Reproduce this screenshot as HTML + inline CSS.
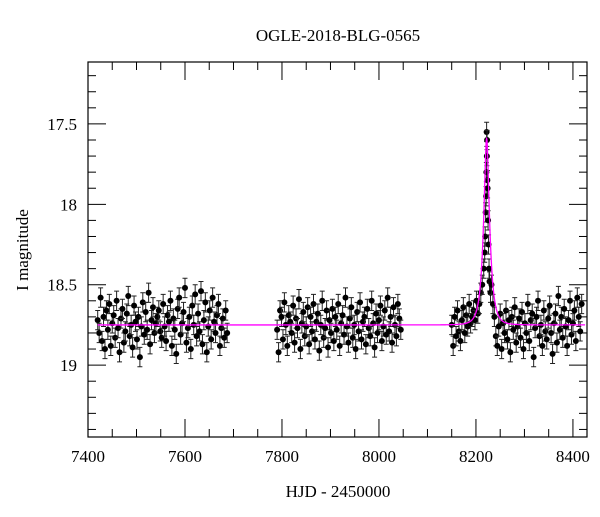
<!DOCTYPE html>
<html><head><meta charset="utf-8"><style>
body{margin:0;background:#fff}
svg text{font-family:"Liberation Serif",serif;fill:#000}
</style></head><body>
<svg id="c" width="600" height="512" viewBox="0 0 600 512" xmlns="http://www.w3.org/2000/svg">
<rect width="600" height="512" fill="#fff"/>
<text x="338" y="41" text-anchor="middle" font-size="17">OGLE-2018-BLG-0565</text>
<text x="338" y="497" text-anchor="middle" font-size="17">HJD - 2450000</text>
<text transform="translate(28,250) rotate(-90)" text-anchor="middle" font-size="17">I magnitude</text>
<g id="ticks"></g>
<g id="pts"></g>
<g id="model"></g>
<rect x="88" y="62" width="499" height="375" fill="none" stroke="#000" stroke-width="1.2"/>
</svg>
<script>
const xTicks=[7400,7600,7800,8000,8200,8400];
const yTicks=[17.5,18,18.5,19];
const season1Times=[7420,7423,7426,7429,7432,7435,7438,7441,7444,7447,7450,7453,7456,7459,7462,7465,7468,7471,7474,7477,7480,7483,7486,7489,7492,7495,7498,7501,7504,7507,7510,7513,7516,7519,7522,7525,7528,7531,7534,7537,7540,7543,7546,7549,7552,7555,7558,7561,7564,7567,7570,7573,7576,7579,7582,7585,7588,7591,7594,7597,7600,7603,7606,7609,7612,7615,7618,7621,7624,7627,7630,7633,7636,7639,7642,7645,7648,7651,7654,7657,7660,7663,7666,7669,7672,7675,7678,7681,7684,7687];
const season1Mags=[18.72,18.80,18.58,18.85,18.70,18.90,18.66,18.78,18.62,18.88,18.74,18.69,18.83,18.60,18.77,18.92,18.71,18.65,18.86,18.79,18.68,18.57,18.82,18.75,18.89,18.63,18.73,18.84,18.70,18.95,18.76,18.61,18.81,18.67,18.78,18.55,18.87,18.72,18.64,18.80,18.74,18.70,18.66,18.79,18.83,18.62,18.76,18.85,18.69,18.73,18.60,18.88,18.71,18.78,18.93,18.65,18.58,18.81,18.74,18.67,18.52,18.86,18.77,18.70,18.90,18.63,18.75,18.56,18.82,18.68,18.79,18.54,18.87,18.72,18.61,18.92,18.76,18.66,18.84,18.58,18.73,18.80,18.69,18.62,18.88,18.77,18.71,18.83,18.66,18.80];
const season2Times=[7790,7793,7796,7799,7802,7805,7808,7811,7814,7817,7820,7823,7826,7829,7832,7835,7838,7841,7844,7847,7850,7853,7856,7859,7862,7865,7868,7871,7874,7877,7880,7883,7886,7889,7892,7895,7898,7901,7904,7907,7910,7913,7916,7919,7922,7925,7928,7931,7934,7937,7940,7943,7946,7949,7952,7955,7958,7961,7964,7967,7970,7973,7976,7979,7982,7985,7988,7991,7994,7997,8000,8003,8006,8009,8012,8015,8018,8021,8024,8027,8030,8033,8036,8039,8042,8045];
const season2Mags=[18.78,18.92,18.66,18.70,18.84,18.61,18.75,18.88,18.69,18.73,18.80,18.63,18.86,18.71,18.77,18.59,18.90,18.74,18.67,18.82,18.76,18.64,18.87,18.70,18.79,18.62,18.84,18.73,18.68,18.91,18.75,18.60,18.83,18.77,18.66,18.89,18.72,18.80,18.65,18.85,18.70,18.78,18.62,18.88,18.74,18.69,18.81,18.58,18.76,18.86,18.71,18.64,18.83,18.75,18.90,18.67,18.79,18.61,18.84,18.73,18.70,18.87,18.65,18.77,18.82,18.60,18.74,18.89,18.68,18.80,18.72,18.63,18.85,18.76,18.66,18.81,18.58,18.79,18.70,18.86,18.64,18.75,18.82,18.62,18.71,18.78];
const season3Times=[8150,8153,8156,8159,8162,8165,8168,8171,8174,8177,8180,8183,8186,8189,8192,8195,8198,8201,8204,8207,8210,8213,8216,8218,8219,8220,8221,8221.5,8222,8222.5,8223,8223.5,8224,8225,8226,8227,8228,8230,8232,8235,8238,8241,8244,8247,8250,8253,8256,8259,8262,8265,8268,8271,8274,8277,8280,8283,8286,8289,8292,8295,8298,8301,8304,8307,8310,8313,8316,8319,8322,8325,8328,8331,8334,8337,8340,8343,8346,8349,8352,8355,8358,8361,8364,8367,8370,8373,8376,8379,8382,8385,8388,8391,8394,8397,8400,8403,8406,8409,8412,8415,8418];
const season3Mags=[18.75,18.88,18.70,18.82,18.66,18.79,18.85,18.72,18.64,18.80,18.69,18.76,18.62,18.74,18.70,18.66,18.72,18.60,18.68,18.62,18.55,18.50,18.40,18.30,18.20,18.05,17.95,17.80,17.55,17.70,17.60,17.85,17.90,18.10,18.25,18.40,18.48,18.55,18.50,18.62,18.70,18.82,18.88,18.76,18.68,18.90,18.74,18.80,18.66,18.84,18.72,18.92,18.70,18.78,18.64,18.86,18.76,18.71,18.83,18.67,18.90,18.74,18.80,18.62,18.85,18.72,18.68,18.95,18.77,18.70,18.60,18.82,18.75,18.88,18.66,18.79,18.84,18.71,18.63,18.80,18.93,18.74,18.68,18.86,18.57,18.78,18.70,18.83,18.65,18.76,18.88,18.72,18.60,18.81,18.74,18.66,18.85,18.58,18.70,18.79,18.62];
const modelT0=8222, modelU0=0.36, modelTE=12, modelBase=18.75;

const NS='http://www.w3.org/2000/svg';
const X0=88,X1=587,D0=7400,D1=8429;
const Y0=62,Y1=437,M0=17.115,M1=19.447;
const xs=d=>X0+(d-D0)/(D1-D0)*(X1-X0);
const ys=m=>Y0+(m-M0)/(M1-M0)*(Y1-Y0);
function mk(tag,attrs,parent){const e=document.createElementNS(NS,tag);for(const k in attrs)e.setAttribute(k,attrs[k]);parent.appendChild(e);return e;}
const tg=document.getElementById('ticks');
for(let d=7400;d<=8425;d+=50){
  const x=xs(d),big=d%200===0,L=big?18:8;
  let e=mk('line',{x1:x,x2:x,y1:Y1,y2:Y1-L,stroke:'#000'},tg);
  
  
  e=mk('line',{x1:x,x2:x,y1:Y0,y2:Y0+L,stroke:'#000'},tg);
  
  
}
xTicks.forEach(d=>{const t=mk('text',{x:xs(d),y:Y1+25,'text-anchor':'middle','font-size':17},tg);t.textContent=d;
  
  });
for(let i=12;i<=19;i++){for(let j=0;j<10;j++){const m=i/1+j/10;if(m<17.2||m>19.41)continue;
  const y=ys(m),big=Math.abs(m*2-Math.round(m*2))<1e-6,L=big?18:8;
  let e=mk('line',{x1:X0,x2:X0+L,y1:y,y2:y,stroke:'#000'},tg);
  
  
  e=mk('line',{x1:X1,x2:X1-L,y1:y,y2:y,stroke:'#000'},tg);
  
  
}}
yTicks.forEach(m=>{const t=mk('text',{x:X0-11,y:ys(m)+6,'text-anchor':'end','font-size':17},tg);t.textContent=m;
  
  });
const pg=document.getElementById('pts');
function season(ts,ms){ts.forEach((t,i)=>{const x=xs(t),m=ms[i],err=0.06;
  const g=mk('g',{},pg);
  
  
  const ya=ys(m-err),yb=ys(m+err);
  mk('path',{d:`M${x},${ya}V${yb}M${x-2.5},${ya}H${x+2.5}M${x-2.5},${yb}H${x+2.5}`,stroke:'#222','stroke-width':1,fill:'none'},g);
  mk('circle',{cx:x,cy:ys(m),r:3,fill:'#000'},g);
});}
season(season1Times,season1Mags);
season(season2Times,season2Mags);
season(season3Times,season3Mags);
const mg=document.getElementById('model');
let d='';
for(let t=7420;t<=8425;t+=0.25){const u=Math.sqrt(modelU0*modelU0+((t-modelT0)/modelTE)**2);
  const A=(u*u+2)/(u*Math.sqrt(u*u+4));const m=modelBase-2.5*Math.log10(A);
  d+=(d?'L':'M')+xs(t).toFixed(2)+','+ys(m).toFixed(2);}
const p=mk('path',{d:d,stroke:'#ff00ff','stroke-width':1.3,fill:'none'},mg);


</script>
</body></html>
